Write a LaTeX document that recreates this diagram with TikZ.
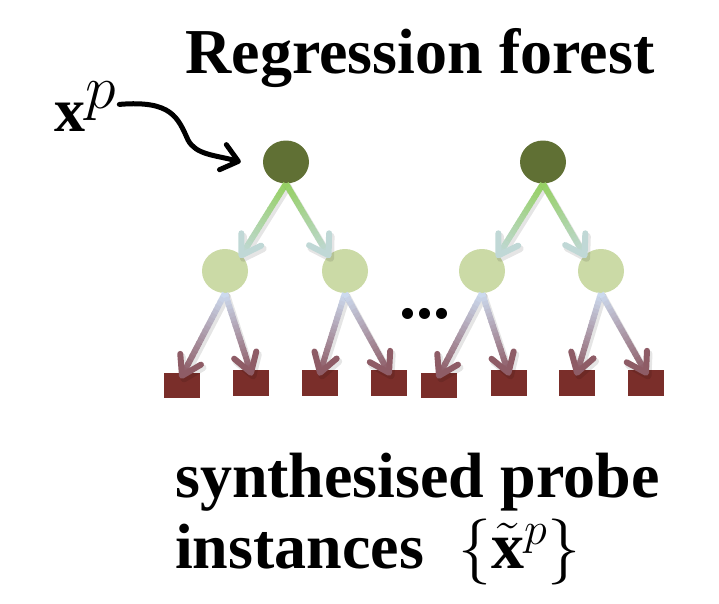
\RequirePackage{fix-cm}
\documentclass[tikz,border=0pt]{standalone}
\usepackage{exscale}
\usepackage{fontspec}
\setmainfont{Liberation Serif}
\usetikzlibrary{calc,shapes.geometric,arrows.meta}
\definecolor{rootgreen}{RGB}{96,112,52}
\definecolor{midgreen}{RGB}{203,218,166}
\definecolor{leafred}{RGB}{122,46,42}
\definecolor{upA}{RGB}{150,208,100}
\definecolor{upB}{RGB}{192,216,214}
\definecolor{loA}{RGB}{204,218,238}
\definecolor{loB}{RGB}{142,92,102}
\newcommand{\gradarrow}[4]{%
  \draw[line width=7pt, black, opacity=0.10, line cap=round, line join=round]
    ($(#1)+(2,3)$) -- ($(#2)+(2,3)$)
    ($(#2)!22pt!32:(#1)$) ++(2,3) -- ($(#2)+(2,3)$) -- ($($(#2)!22pt!-32:(#1)$)+(2,3)$);
  \foreach \i in {0,...,19}{%
    \pgfmathsetmacro\ta{\i/20}%
    \pgfmathsetmacro\tb{min(1,(\i+1)/20+0.01)}%
    \pgfmathtruncatemacro\pc{100-100*\i/19}%
    \draw[line width=6pt, #3!\pc!#4] ($(#1)!\ta!(#2)$) -- ($(#1)!\tb!(#2)$);
  }%
  \draw[line width=6pt, #4, line cap=round, line join=round]
    ($(#2)!22pt!32:(#1)$) -- (#2) -- ($(#2)!22pt!-32:(#1)$);
}
\tikzset{
  rootnode/.style={ellipse, fill=rootgreen, minimum width=46pt, minimum height=43pt, inner sep=0pt},
  midnode/.style={ellipse, fill=midgreen, minimum width=46pt, minimum height=44pt, inner sep=0pt},
  leafnode/.style={rectangle, fill=leafred, minimum width=36pt, minimum height=26pt, inner sep=0pt},
  bigtext/.style={font=\bfseries\fontsize{64}{70}\selectfont, inner sep=0pt},
  mathtext/.style={font=\fontsize{66}{72}\selectfont, inner sep=0pt},
}
\begin{document}
\begin{tikzpicture}[x=1pt,y=-1pt]
\useasboundingbox (0,0) rectangle (719,603);
% nodes
\node[bigtext, anchor=base] (title) at (420,73) {Regression forest};
\node[font=\fontsize{62}{70}\selectfont, inner sep=0pt, anchor=base west] (xp) at (54,131)
  {$\mathbf{x}^{\textstyle p}$};
\node[rootnode] (r1) at (286,162) {};
\node[rootnode] (r2) at (543,162) {};
\node[midnode] (m1) at (225,271) {};
\node[midnode] (m2) at (345,271) {};
\node[midnode] (m3) at (482,271) {};
\node[midnode] (m4) at (601,271) {};
\node[leafnode, minimum height=25pt] (s1) at (182,385.5) {};
\node[leafnode] (s2) at (251,383) {};
\node[leafnode] (s3) at (320,383) {};
\node[leafnode] (s4) at (389,383) {};
\node[leafnode, minimum height=25pt] (s5) at (439,385.5) {};
\node[leafnode] (s6) at (508.5,383) {};
\node[leafnode] (s7) at (577,383) {};
\node[leafnode] (s8) at (646,383) {};
\node[font=\bfseries\fontsize{68}{70}\selectfont, inner sep=0pt, anchor=base] (dots) at (425,318) {...};
\node[bigtext, anchor=base west] (syn) at (175,497) {synthesised probe};
\node[bigtext, anchor=base west] (inst) at (175,568) {instances};
\node[mathtext, anchor=base west] (form) at (458,568) {$\{\tilde{\mathbf{x}}^p\}$};
% tips on leaves
\foreach \k in {1,...,8}{\coordinate (t\k) at ($(s\k.north)+(0,3)$);}
% upper arrows
\gradarrow{r1.south}{m1.north east}{upA}{upB}
\gradarrow{r1.south}{m2.north west}{upA}{upB}
\gradarrow{r2.south}{m3.north east}{upA}{upB}
\gradarrow{r2.south}{m4.north west}{upA}{upB}
% lower arrows
\gradarrow{m1.south}{t1}{loA}{loB}
\gradarrow{m1.south}{t2}{loA}{loB}
\gradarrow{m2.south}{t3}{loA}{loB}
\gradarrow{m2.south}{t4}{loA}{loB}
\gradarrow{m3.south}{t5}{loA}{loB}
\gradarrow{m3.south}{t6}{loA}{loB}
\gradarrow{m4.south}{t7}{loA}{loB}
\gradarrow{m4.south}{t8}{loA}{loB}
% input arrow
\coordinate (inend) at ($(r1.west)+(-22,0)$);
\draw[line width=5pt, line cap=round, -{Straight Barb[length=16pt,width=26pt,round]}]
  ($(xp.east)+(3,-2)$) .. controls (172,100) and (178,118) .. (188,140)
  .. controls (196,155) and (215,155) .. (inend);
\end{tikzpicture}
\end{document}
